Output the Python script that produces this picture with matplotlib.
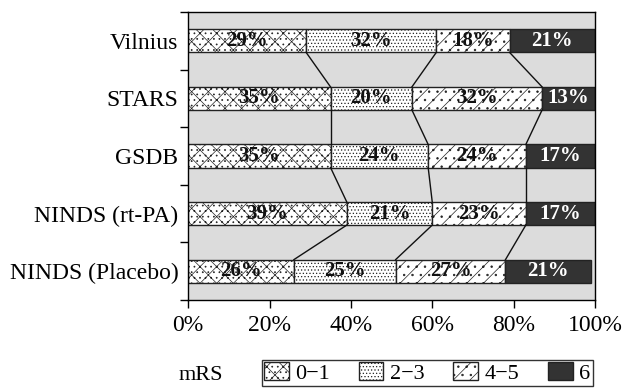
import matplotlib.pyplot as plt
import numpy as np
from matplotlib.patches import Patch
from matplotlib.ticker import FuncFormatter

plt.rcParams['font.family'] = 'Liberation Serif'
plt.rcParams['hatch.linewidth'] = 0.5
plt.rcParams['hatch.color'] = '#7a7a7a'

trials = ['Vilnius', 'STARS', 'GSDB', 'NINDS (rt-PA)', 'NINDS (Placebo)']
mrs_01 = [29, 35, 35, 39, 26]
mrs_23 = [32, 20, 24, 21, 25]
mrs_45 = [18, 32, 24, 23, 27]
mrs_6 = [21, 13, 17, 17, 21]
groups = ['0\u22121', '2\u22123', '4\u22125', '6']

series = [mrs_01, mrs_23, mrs_45, mrs_6]
hatches = ['xx...', '.....', '..//', None]
faces = ['white', 'white', 'white', '#333333']

fig = plt.figure(figsize=(6.25, 3.9), dpi=100)
ax = fig.add_axes([0.301, 0.231, 0.651, 0.738])
ax.set_facecolor('#dcdcdc')

y = np.arange(len(trials))[::-1]
h = 0.4
left = np.zeros(len(trials))
for i, vals in enumerate(series):
    vals = np.array(vals, dtype=float)
    ax.barh(y, vals, left=left, height=h, color=faces[i],
            edgecolor='#222222', linewidth=1.0, hatch=hatches[i])
    for yy, l, v in zip(y, left, vals):
        ax.text(l + v / 2, yy, '%d%%' % v, ha='center', va='center',
                fontsize=15, fontweight='bold',
                color='white' if i == 3 else '#111111')
    left = left + vals

# lines joining the segment edges of neighbouring bars
cum = np.cumsum(np.array(series), axis=0)[:3]
for k in range(3):
    for j in range(len(trials) - 1):
        ax.plot([cum[k][j], cum[k][j + 1]], [y[j] - h / 2, y[j + 1] + h / 2],
                color='#111111', lw=1.0)

ax.set_xlim(0, 100)
ax.set_ylim(-0.5, len(trials) - 0.5)
ax.set_xticks([0, 20, 40, 60, 80, 100])
ax.xaxis.set_major_formatter(FuncFormatter(lambda v, p: '%d%%' % v))
ax.set_yticks(y)
ax.set_yticklabels(trials)
ax.set_yticks(np.arange(-0.5, len(trials)), minor=True)
ax.tick_params(axis='y', which='major', length=0, labelsize=17, pad=7)
ax.tick_params(axis='y', which='minor', length=6, width=1)
ax.tick_params(axis='x', labelsize=17, length=6, width=1, pad=5)
for s in ax.spines.values():
    s.set_linewidth(1.0)

handles = [Patch(facecolor=faces[i], edgecolor='#222222', hatch=hatches[i])
           for i in range(4)]
leg = fig.legend(handles, groups, ncol=4, loc='upper left',
                 bbox_to_anchor=(0.419, 0.078), fontsize=16, frameon=True,
                 fancybox=False, edgecolor='black', handlelength=1.1,
                 handleheight=0.9, handletextpad=0.3, columnspacing=1.3,
                 borderpad=0.1, borderaxespad=0)
leg.get_frame().set_linewidth(1.0)
fig.text(0.357, 0.025, 'mRS', ha='right', va='baseline', fontsize=16)

fig.savefig('out.png')
